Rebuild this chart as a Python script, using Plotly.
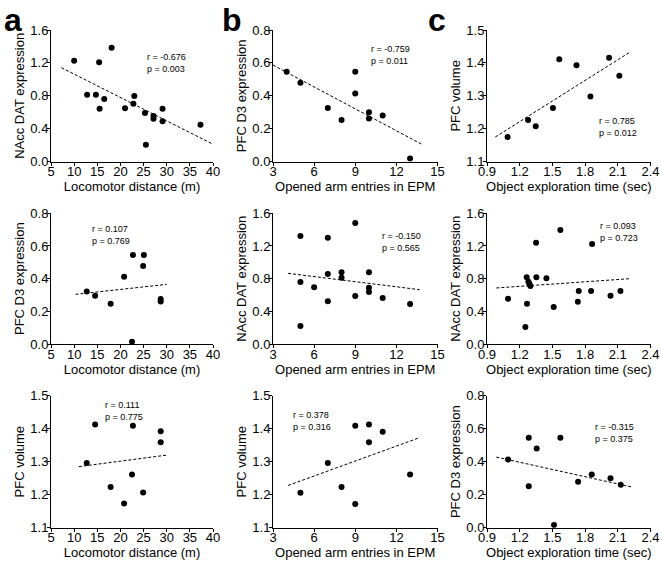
import plotly.graph_objects as go

W, H = 661, 561

# ---------------- data ----------------
loco_dat_x = [10.0, 15.4, 18.1, 12.8, 14.7, 16.5, 15.5, 21.0, 23.0, 22.8, 25.3, 27.15, 27.15, 29.1, 29.1, 25.5, 37.3]
loco_dat_y = [1.227, 1.207, 1.385, 0.814, 0.814, 0.761, 0.644, 0.648, 0.798, 0.705, 0.591, 0.555, 0.522, 0.644, 0.49, 0.207, 0.45]
loco_dat_fit_x = [7.25, 39.9]
loco_dat_fit_y = [1.142, 0.215]

epm_d3_x = [4.0, 5.0, 7.0, 8.0, 9.0, 9.0, 10.0, 10.0, 11.0, 13.0]
epm_d3_y = [0.547, 0.48, 0.326, 0.253, 0.547, 0.415, 0.30, 0.263, 0.28, 0.02]
epm_d3_fit_x = [3.0, 13.83]
epm_d3_fit_y = [0.587, 0.107]

obj_vol_x = [1.089, 1.277, 1.347, 1.505, 1.563, 1.721, 1.849, 2.02, 2.114]
obj_vol_y = [1.175, 1.227, 1.208, 1.263, 1.411, 1.393, 1.298, 1.416, 1.361]
obj_vol_fit_x = [0.976, 2.208]
obj_vol_fit_y = [1.175, 1.432]

loco_d3_x = [12.73, 14.53, 17.88, 20.8, 22.7, 22.5, 24.9, 25.06, 28.7, 28.7]
loco_d3_y = [0.322, 0.296, 0.247, 0.412, 0.545, 0.014, 0.478, 0.545, 0.275, 0.26]
loco_d3_fit_x = [10.3, 30.0]
loco_d3_fit_y = [0.304, 0.365]

epm_dat_x = [5, 5, 5, 6, 7, 7, 7, 8, 8, 9, 9, 10, 10, 10, 11, 13]
epm_dat_y = [1.322, 0.759, 0.22, 0.694, 1.302, 0.857, 0.522, 0.878, 0.812, 1.48, 0.588, 0.878, 0.69, 0.637, 0.563, 0.49]
epm_dat_fit_x = [4.1, 13.7]
epm_dat_fit_y = [0.865, 0.665]

obj_dat_x = [1.093, 1.252, 1.264, 1.267, 1.28, 1.289, 1.298, 1.35, 1.353, 1.445, 1.512, 1.573, 1.733, 1.742, 1.855, 1.864, 2.033, 2.124]
obj_dat_y = [0.555, 0.208, 0.816, 0.494, 0.763, 0.739, 0.71, 1.241, 0.816, 0.804, 0.453, 1.396, 0.518, 0.649, 0.649, 1.224, 0.592, 0.649]
obj_dat_fit_x = [0.986, 2.216]
obj_dat_fit_y = [0.686, 0.80]

loco_vol_x = [12.73, 14.53, 17.88, 20.8, 22.5, 22.7, 24.9, 28.7, 28.7]
loco_vol_y = [1.296, 1.413, 1.223, 1.173, 1.261, 1.409, 1.207, 1.392, 1.359]
loco_vol_fit_x = [11.0, 30.0]
loco_vol_fit_y = [1.285, 1.320]

epm_vol_x = [5, 7, 8, 9, 9, 10, 10, 11, 13]
epm_vol_y = [1.206, 1.296, 1.223, 1.409, 1.172, 1.413, 1.359, 1.391, 1.261]
epm_vol_fit_x = [4.1, 13.7]
epm_vol_fit_y = [1.228, 1.373]

obj_d3_x = [1.093, 1.283, 1.283, 1.356, 1.515, 1.573, 1.736, 1.861, 2.033, 2.127]
obj_d3_y = [0.414, 0.545, 0.251, 0.48, 0.016, 0.545, 0.279, 0.323, 0.299, 0.261]
obj_d3_fit_x = [0.986, 2.232]
obj_d3_fit_y = [0.428, 0.246]

stats = [
    ("r = -0.676", "p = 0.003"),
    ("r = -0.759", "p = 0.011"),
    ("r = 0.785", "p = 0.012"),
    ("r = 0.107", "p = 0.769"),
    ("r = -0.150", "p = 0.565"),
    ("r = 0.093", "p = 0.723"),
    ("r = 0.111", "p = 0.775"),
    ("r = 0.378", "p = 0.316"),
    ("r = -0.315", "p = 0.375"),
]
stat_pos = [(25.4, 1.20), (10.0, 0.647), (1.91, 1.206),
            (13.45, 0.665), (10.78, 1.253), (1.92, 1.376),
            (16.2, 1.454), (4.3, 1.422), (1.87, 0.574)]

x_titles = ["Locomotor distance (m)", "Opened arm entries in EPM", "Object exploration time (sec)"]
y_titles = [["NAcc DAT expression", "PFC D3 expression", "PFC volume"],
            ["PFC D3 expression", "NAcc DAT expression", "NAcc DAT expression"],
            ["PFC volume", "PFC volume", "PFC D3 expression"]]

x_ranges = [[5, 40], [3, 15], [0.9, 2.4]]
x_dticks = [5, 3, 0.3]
y_ranges = [[[0, 1.6], [0, 0.8], [1.1, 1.5]],
            [[0, 0.8], [0, 1.6], [0, 1.6]],
            [[1.1, 1.5], [1.1, 1.5], [0, 0.8]]]
y_dticks = {(0, 1.6): 0.4, (0, 0.8): 0.2, (1.1, 1.5): 0.1}

panels = [
    [(loco_dat_x, loco_dat_y, loco_dat_fit_x, loco_dat_fit_y),
     (epm_d3_x, epm_d3_y, epm_d3_fit_x, epm_d3_fit_y),
     (obj_vol_x, obj_vol_y, obj_vol_fit_x, obj_vol_fit_y)],
    [(loco_d3_x, loco_d3_y, loco_d3_fit_x, loco_d3_fit_y),
     (epm_dat_x, epm_dat_y, epm_dat_fit_x, epm_dat_fit_y),
     (obj_dat_x, obj_dat_y, obj_dat_fit_x, obj_dat_fit_y)],
    [(loco_vol_x, loco_vol_y, loco_vol_fit_x, loco_vol_fit_y),
     (epm_vol_x, epm_vol_y, epm_vol_fit_x, epm_vol_fit_y),
     (obj_d3_x, obj_d3_y, obj_d3_fit_x, obj_d3_fit_y)],
]

panel_letters = ["a", "b", "c"]

# ---------------- layout geometry (pixels) ----------------
col_px = [(51, 213), (273, 437.5), (487, 650.5)]
row_px = [(30, 161.7), (213.3, 344), (395.7, 527.7)]

FONT = "Liberation Sans, Arial, sans-serif"

fig = go.Figure()
layout = dict(
    width=W, height=H, margin=dict(l=0, r=0, t=0, b=0, autoexpand=False),
    paper_bgcolor="white", plot_bgcolor="white",
    showlegend=False, font=dict(family=FONT, color="black", size=13),
    annotations=[],
)

k = 0
for r in range(3):
    for c in range(3):
        k += 1
        xa = "x" if k == 1 else f"x{k}"
        ya = "y" if k == 1 else f"y{k}"
        xs, ys, fx, fy = panels[r][c]
        fig.add_trace(go.Scatter(x=fx, y=fy, mode="lines", xaxis=xa, yaxis=ya,
                                 line=dict(color="black", width=1, dash="3px,2px"),
                                 hoverinfo="skip"))
        fig.add_trace(go.Scatter(x=xs, y=ys, mode="markers", xaxis=xa, yaxis=ya,
                                 marker=dict(color="black", size=6)))
        x0, x1 = col_px[c]
        y0, y1 = row_px[r]
        yr = y_ranges[r][c]
        layout["xaxis" if k == 1 else f"xaxis{k}"] = dict(
            domain=[x0 / W, x1 / W], anchor=ya, range=x_ranges[c],
            dtick=x_dticks[c], tick0=x_ranges[c][0], automargin=False,
            showline=True, linecolor="black", linewidth=1,
            ticks="outside", ticklen=3, tickwidth=1, tickcolor="black",
            ticklabelstandoff=-5,
            showgrid=False, zeroline=False,
            tickfont=dict(size=13, family=FONT),
            title=dict(text=x_titles[c], font=dict(size=13, family=FONT), standoff=2),
        )
        layout["yaxis" if k == 1 else f"yaxis{k}"] = dict(
            domain=[1 - y1 / H, 1 - y0 / H], anchor=xa, range=yr,
            dtick=y_dticks[tuple(yr)], tick0=yr[0], automargin=False,
            tickformat=".1f",
            showline=True, linecolor="black", linewidth=1,
            ticks="outside", ticklen=3, tickwidth=1, tickcolor="black",
            ticklabelstandoff=-4,
            showgrid=False, zeroline=False,
            tickfont=dict(size=13, family=FONT),
            title=dict(text=y_titles[r][c], font=dict(size=13, family=FONT), standoff=2),
        )
        sx, sy = stat_pos[k - 1]
        layout["annotations"].append(dict(
            x=sx, y=sy, xref=xa, yref=ya, xanchor="left", yanchor="middle",
            text=stats[k - 1][0] + "<br>" + stats[k - 1][1], showarrow=False,
            align="left", font=dict(size=9, family=FONT, color="black"),
        ))

letter_x = [2, 220, 426]
for i, L in enumerate(panel_letters):
    layout["annotations"].append(dict(
        x=letter_x[i] / W, y=1 - 0 / H, xref="paper", yref="paper",
        xanchor="left", yanchor="top", text=f"<b>{L}</b>", showarrow=False,
        font=dict(size=32, family=FONT, color="black"),
    ))

fig.update_layout(**layout)
fig.write_html("out.html", config={"displayModeBar": False},
               post_script="document.body.style.margin='0px';document.body.style.padding='0px';")
